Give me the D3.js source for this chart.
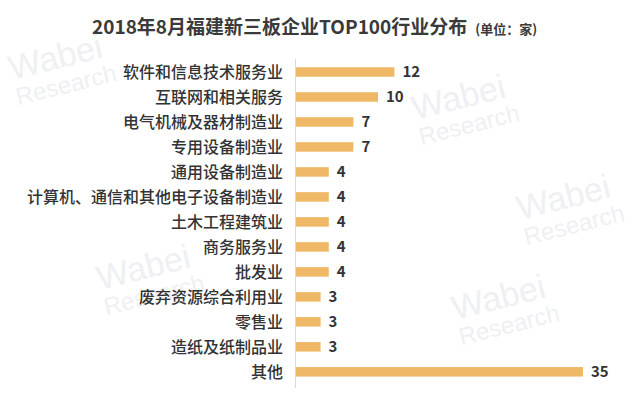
<!DOCTYPE html>
<html><head><meta charset="utf-8">
<script src="https://cdn.jsdelivr.net/npm/d3@7"></script>
<style>body{margin:0;background:#fff;}svg{display:block;}</style>
</head><body>
<svg id="chart" width="640" height="399"></svg>
<script>
const categories = ["软件和信息技术服务业","互联网和相关服务","电气机械及器材制造业","专用设备制造业","通用设备制造业","计算机、通信和其他电子设备制造业","土木工程建筑业","商务服务业","批发业","废弃资源综合利用业","零售业","造纸及纸制品业","其他"];
const values = [12,10,7,7,4,4,4,4,4,3,3,3,35];
const titleText = "2018年8月福建新三板企业TOP100行业分布";
const unitText = "(单位：家)";

const svg = d3.select("#chart");
const font = "'Noto Sans CJK SC','Noto Sans',sans-serif";

// faint watermarks
const wm = [[12,80],[415,120],[520,220],[100,290],[455,320]];
const wg = svg.append("g").attr("fill","#eef0f3").style("font-family","'Liberation Sans',sans-serif");
wm.forEach(([x,y])=>{
  const g = wg.append("g").attr("transform",`translate(${x},${y}) rotate(-14)`);
  g.append("text").attr("x",0).attr("y",0).attr("font-size",34).text("Wabei");
  g.append("text").attr("x",0).attr("y",26).attr("font-size",24).text("Research");
});

const x = d3.scaleLinear().domain([0,35]).range([296,583]);
const y = d3.scaleBand().domain(categories).range([59.5,384.3]).paddingInner(0.62).paddingOuter(0.31);

svg.append("line").attr("x1",295.5).attr("x2",295.5).attr("y1",59).attr("y2",388)
  .attr("stroke","#d9d9d9").attr("stroke-width",1);

svg.append("g").selectAll("rect").data(values).join("rect")
  .attr("x",x(0)).attr("y",(d,i)=>y(categories[i]))
  .attr("width",d=>x(d)-x(0)).attr("height",y.bandwidth())
  .attr("fill","#efb866");

svg.append("g").selectAll("text").data(categories).join("text")
  .attr("x",283).attr("y",d=>y(d)+y.bandwidth()/2).attr("dy","0.36em")
  .attr("text-anchor","end").attr("font-size",16).attr("font-weight",500)
  .attr("fill","#333").style("font-family",font).text(d=>d);

svg.append("g").selectAll("text").data(values).join("text")
  .attr("x",d=>x(d)+8).attr("y",(d,i)=>y(categories[i])+y.bandwidth()/2).attr("dy","0.36em")
  .attr("font-size",15).attr("font-weight",700).attr("fill","#333")
  .style("font-family",font).text(d=>d);

const t = svg.append("text").attr("x",92).attr("y",34).style("font-family",font).attr("fill","#3a3a3a");
t.append("tspan").attr("font-size",19).attr("font-weight",700).text(titleText);
t.append("tspan").attr("dx",8).attr("font-size",13).attr("font-weight",700).text(unitText);
</script>
</body></html>
